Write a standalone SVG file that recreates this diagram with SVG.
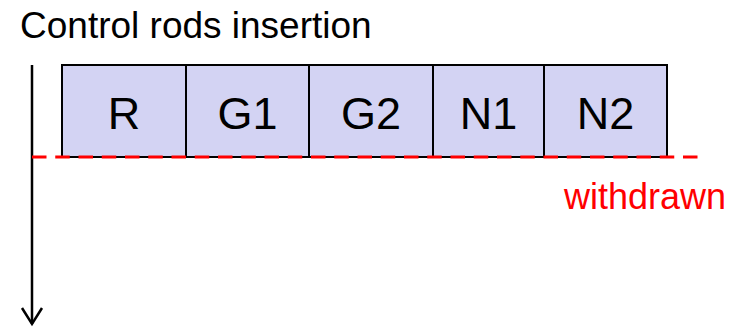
<svg xmlns="http://www.w3.org/2000/svg" width="745" height="327" viewBox="0 0 745 327">
<style>
.box{fill:#d3d3f3;stroke:#000;stroke-width:2}
.lbl{font-family:"Liberation Sans",Arial,sans-serif;font-size:45px;fill:#000;text-anchor:middle}
.txt{font-family:"Liberation Sans",Arial,sans-serif}
</style>
<rect width="745" height="327" fill="#fff"/>
<text class="txt" x="20" y="38" font-size="37" fill="#000">Control rods insertion</text>
<g id="R"><rect class="box" x="62" y="65" width="124" height="92"/><text class="lbl" x="124" y="129">R</text></g>
<g id="G1"><rect class="box" x="186" y="65" width="123" height="92"/><text class="lbl" x="247.5" y="129">G1</text></g>
<g id="G2"><rect class="box" x="309" y="65" width="124" height="92"/><text class="lbl" x="371" y="129">G2</text></g>
<g id="N1"><rect class="box" x="433" y="65" width="111" height="92"/><text class="lbl" x="488.5" y="129">N1</text></g>
<g id="N2"><rect class="box" x="544" y="65" width="123" height="92"/><text class="lbl" x="605.5" y="129">N2</text></g>
<g id="connectors">
<line x1="32" y1="65" x2="32" y2="324" stroke="#000" stroke-width="2.5"/>
<polyline points="22,308 32,324 42,308" fill="none" stroke="#000" stroke-width="2.5"/>
<line x1="32" y1="157" x2="698" y2="157" stroke="#ff0000" stroke-width="3" stroke-dasharray="14.5 8.75"/>
</g>
<text class="txt" x="564" y="209" font-size="36" fill="#ff0000">withdrawn</text>
</svg>
